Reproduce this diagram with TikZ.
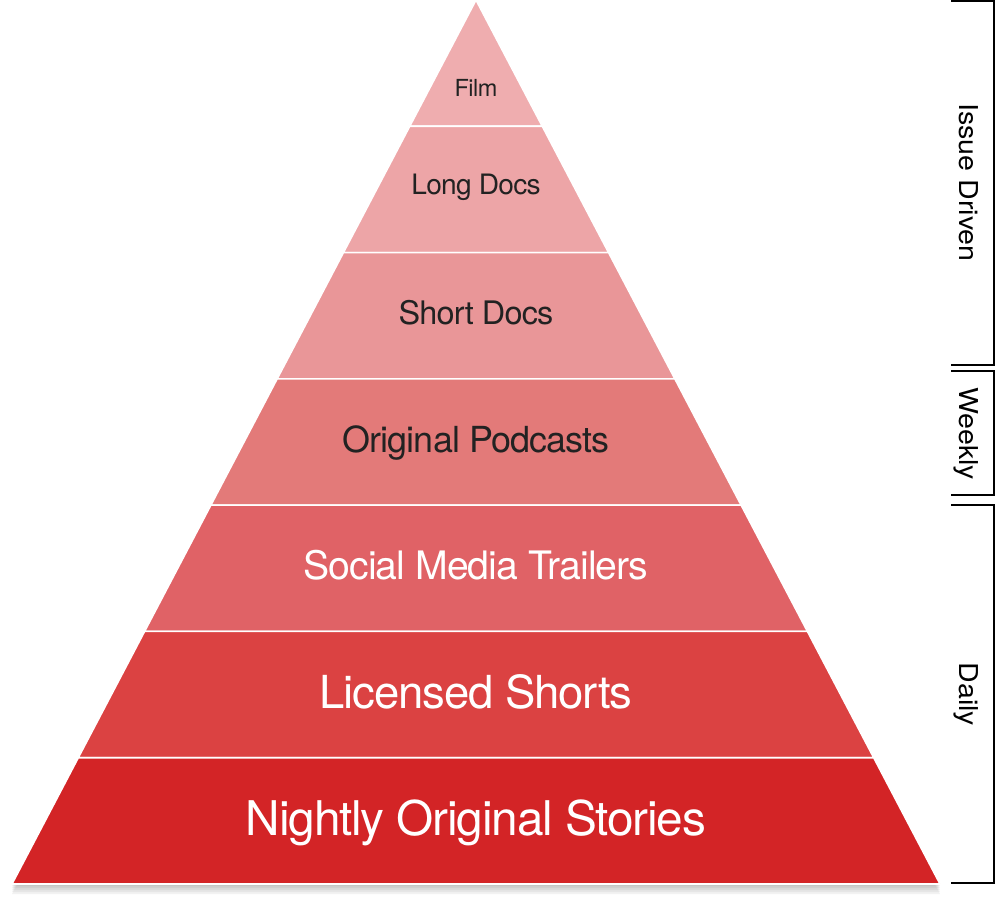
\documentclass[tikz,border=0pt]{standalone}
\usepackage{fontspec}
\newfontfamily\pyrfont[LetterSpace=-2.5]{TeX Gyre Heros}
\newfontfamily\sidefont[FakeStretch=1.1]{TeX Gyre Heros}
\usetikzlibrary{calc}

\definecolor{tierfilm}{RGB}{239,173,175}
\definecolor{tierlong}{RGB}{237,165,167}
\definecolor{tiershort}{RGB}{233,150,152}
\definecolor{tierpod}{RGB}{227,122,121}
\definecolor{tiersocial}{RGB}{224,98,102}
\definecolor{tierlicensed}{RGB}{219,66,66}
\definecolor{tiernightly}{RGB}{211,36,38}
\definecolor{darktext}{RGB}{34,34,34}

\begin{document}
\begin{tikzpicture}[
        x=1pt, y=-1pt,
        tier/.style={draw=white, line width=1.6pt},
        lbl/.style={anchor=base, inner sep=0pt},
        brk/.style={line width=2pt},
        side/.style={anchor=base, inner sep=0pt, rotate=-90, font=\sidefont\fontsize{26}{26}\selectfont}
    ]
        \useasboundingbox (0,0) rectangle (996,904);

        \coordinate (apex) at (476,0);
        \coordinate (bl) at (12,884);
        \coordinate (br) at (940,884);

        % soft shadow under the pyramid
        \foreach \s in {2,4,...,10}
            \fill[black, opacity=0.05] ($(apex)+(0,\s)$) -- ($(bl)+(0,\s)$) -- ($(br)+(0,\s)$) -- cycle;

        \foreach \k/\col in {1/tierfilm, 2/tierlong, 3/tiershort, 4/tierpod, 5/tiersocial, 6/tierlicensed, 7/tiernightly}
            \path[tier, fill=\col] ($(apex)!{(\k-1)/7}!(bl)$) -- ($(apex)!{\k/7}!(bl)$) -- ($(apex)!{\k/7}!(br)$) -- ($(apex)!{(\k-1)/7}!(br)$) -- cycle;

        \node[lbl, text=darktext, font=\pyrfont\fontsize{23.5}{23.5}\selectfont] (film) at (476,96.5) {Film};
        \node[lbl, text=darktext, font=\pyrfont\fontsize{28.1}{28.1}\selectfont] (longdocs) at (476,195) {Long Docs};
        \node[lbl, text=darktext, font=\pyrfont\fontsize{32.4}{32.4}\selectfont] (shortdocs) at (476,324.5) {Short Docs};
        \node[lbl, text=darktext, font=\pyrfont\fontsize{35.9}{35.9}\selectfont] (podcasts) at (476,452) {Original Podcasts};
        \node[lbl, text=white, font=\pyrfont\fontsize{39.2}{39.2}\selectfont] (trailers) at (476,579) {Social Media Trailers};
        \node[lbl, text=white, font=\pyrfont\fontsize{45.5}{45.5}\selectfont] (shorts) at (476,708) {Licensed Shorts};
        \node[lbl, text=white, font=\pyrfont\fontsize{47.8}{47.8}\selectfont] (stories) at (476,835) {Nightly Original Stories};

        % frequency brackets
        \draw[brk] (951,1) -| (994,365) -- (951,365);
        \draw[brk] (951,371) -| (994,495) -- (951,495);
        \draw[brk] (951,505) -| (994,883) -- (951,883);
        \node[side] (issue) at (959,182.5) {Issue Driven};
        \node[side] (weekly) at (959,433.5) {Weekly};
        \node[side] (daily) at (959,694.5) {Daily};
    \end{tikzpicture}
\end{document}
